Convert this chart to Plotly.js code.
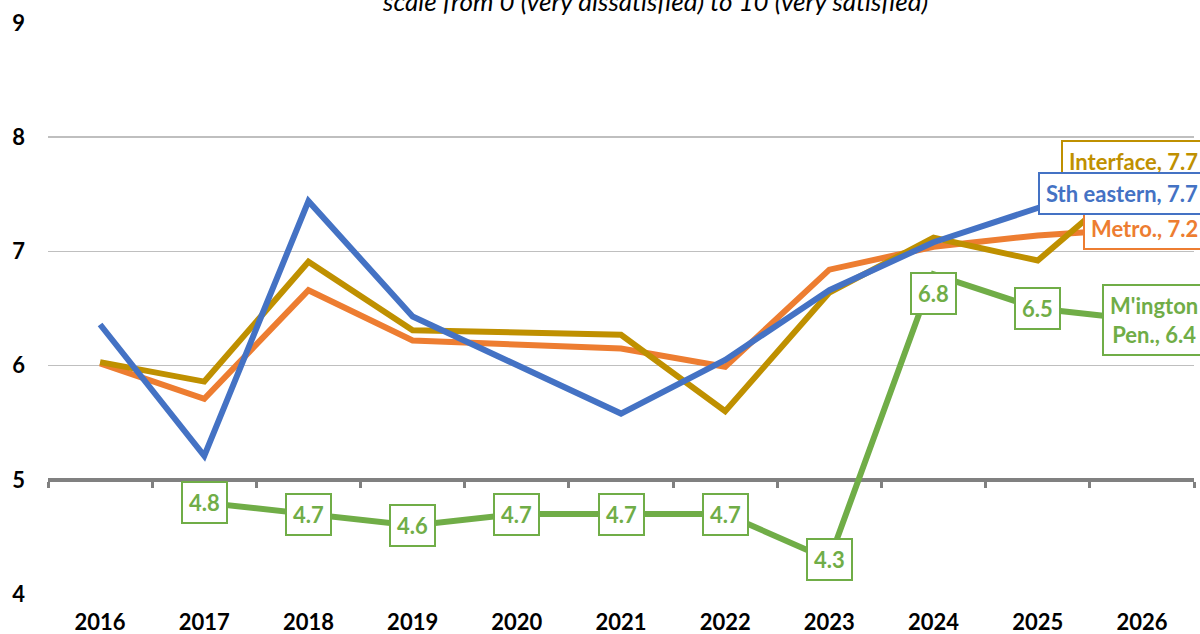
<!DOCTYPE html>
<html>
<head>
<meta charset="utf-8">
<script src="https://cdn.plot.ly/plotly-3.0.1.min.js"></script>
<style>html,body{margin:0;padding:0;background:#fff;}#chart{width:1200px;height:634px;}</style>
</head>
<body>
<div id="chart"></div>
<script>
var years = ['2016','2017','2018','2019','2020','2021','2022','2023','2024','2025','2026'];
var interfaceVals = [6.03, 5.86, 6.91, 6.31, null, 6.27, 5.60, 6.64, 7.12, 6.92, 7.7];
var sthEasternVals = [6.36, 5.21, 7.44, 6.43, null, 5.58, 6.05, 6.66, 7.08, 7.38, 7.7];
var metroVals = [6.02, 5.71, 6.66, 6.22, null, 6.15, 5.99, 6.84, 7.04, 7.14, 7.2];
var mingtonVals = [null, 4.8, 4.7, 4.6, 4.7, 4.7, 4.7, 4.3, 6.8, 6.5, 6.4];
var yTicks = [4, 5, 6, 7, 8, 9];
var subtitle = 'scale from 0 (very dissatisfied) to 10 (very satisfied)';

var C = {interface:'#BF9000', sth:'#4472C4', metro:'#ED7D31', ming:'#70AD47'};
var FONT = 'Lato, "Open Sans", sans-serif';

function line(y, color, name) {
  return {x: years, y: y, type: 'scatter', mode: 'lines', name: name,
    line: {color: color, width: 6}, connectgaps: true, hoverinfo: 'skip', showlegend: false};
}
var traces = [
  {x: years, y: years.map(function(){return null;}), xaxis: 'x2', type: 'scatter', mode: 'lines', showlegend: false, hoverinfo: 'skip'},
  line(metroVals, C.metro, 'Metro.'),
  line(interfaceVals, C.interface, 'Interface'),
  line(sthEasternVals, C.sth, 'Sth eastern'),
  line(mingtonVals, C.ming, "M'ington Pen.")
];

var annotations = [];
var last = years.length - 1;
mingtonVals.forEach(function(v, i) {
  if (v === null || i === last) return;
  annotations.push({x: i, y: v, xref: 'x', yref: 'y', text: '<b>' + v.toFixed(1) + '</b>',
    showarrow: false, bgcolor: '#ffffff', bordercolor: C.ming, borderwidth: 2, borderpad: 6,
    yshift: (i === 8 ? -19 : 0),
    font: {family: FONT, size: 22, color: C.ming}});
});
function endLabel(name, vals, color, yshift) {
  var v = vals[last];
  return {x: last, y: v, xref: 'x', yref: 'y', text: '<b>' + name + ', ' + v.toFixed(1) + '</b>',
    showarrow: false, xanchor: 'right', xshift: 64, yshift: yshift,
    bgcolor: '#ffffff', bordercolor: color, borderwidth: 2, borderpad: 6, align: 'center',
    font: {family: FONT, size: 22, color: color}};
}
annotations.push(endLabel('Interface', interfaceVals, C.interface, 10));
annotations.push(endLabel('Metro.', metroVals, C.metro, 0));
annotations.push(endLabel('Sth eastern', sthEasternVals, C.sth, -22));
annotations.push(endLabel("M'ington<br>Pen.", mingtonVals, C.ming, 0));
annotations.push({xref: 'paper', yref: 'paper', x: 0.53, y: 1, yanchor: 'bottom', yshift: 4,
  text: '<i>' + subtitle + '</i>', showarrow: false,
  font: {family: FONT, size: 26, color: '#000'}});

var layout = {
  width: 1200, height: 634,
  margin: {l: 48, r: 6, t: 23, b: 40},
  paper_bgcolor: '#fff', plot_bgcolor: '#fff',
  showlegend: false,
  xaxis: {type: 'category', categoryarray: years, categoryorder: 'array', range: [-0.5, 10.5],
    showline: false, ticks: '', showgrid: false, zeroline: false, ticklabelstandoff: 13,
    tickfont: {family: FONT, size: 22, weight: 700, color: '#000'}, fixedrange: true},
  xaxis2: {type: 'category', categoryarray: years, categoryorder: 'array', range: [-0.5, 10.5],
    overlaying: 'x', anchor: 'free', position: 0.2, side: 'bottom',
    showline: true, linecolor: '#808080', linewidth: 4, ticks: 'outside', tickson: 'boundaries',
    ticklen: 6, tickwidth: 3, tickcolor: '#808080', showticklabels: false, showgrid: false,
    zeroline: false, layer: 'below traces', fixedrange: true},
  yaxis: {range: [4, 9], tickvals: yTicks, ticktext: yTicks.map(String), showgrid: true,
    gridcolor: '#BFBFBF', gridwidth: 1.5, zeroline: false, showline: false, ticks: '',
    ticklabelstandoff: 22, fixedrange: true,
    tickfont: {family: FONT, size: 22, weight: 700, color: '#000'}},
  annotations: annotations
};
Plotly.newPlot('chart', traces, layout, {displayModeBar: false, staticPlot: true});
</script>
</body>
</html>
